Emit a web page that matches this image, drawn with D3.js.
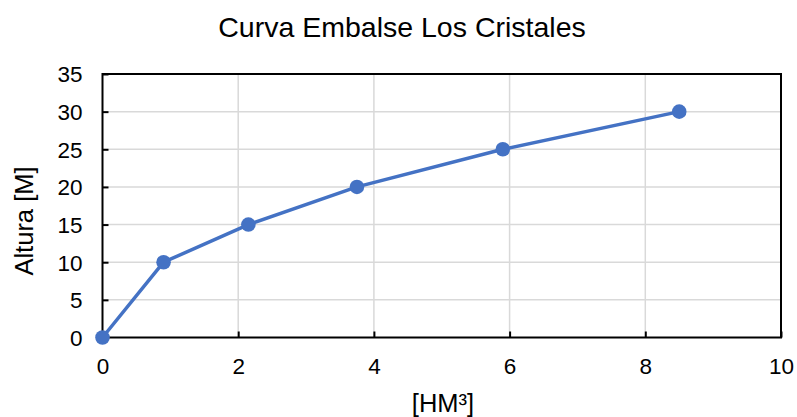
<!DOCTYPE html>
<html>
<head>
<meta charset="utf-8">
<script src="https://cdn.jsdelivr.net/npm/d3@7"></script>
<style>
  html, body { margin: 0; padding: 0; background: #fff; }
  svg { display: block; font-family: "Liberation Sans", Arial, sans-serif; }
</style>
</head>
<body>
<svg id="chart" width="797" height="417"></svg>
<script>
// Volume (HM³) and height (M) of the reservoir curve
const volumen = [0, 0.9, 2.15, 3.75, 5.9, 8.5];
const altura = [0, 10, 15, 20, 25, 30];
const xTicks = [0, 2, 4, 6, 8, 10];
const yTicks = [0, 5, 10, 15, 20, 25, 30, 35];
const titulo = "Curva Embalse Los Cristales";
const tituloX = "[HM³]";
const tituloY = "Altura [M]";

const svg = d3.select("#chart");
const m = { left: 102.5, right: 781, top: 74, bottom: 337.5 };

const x = d3.scaleLinear().domain([0, 10]).range([m.left, m.right]);
const y = d3.scaleLinear().domain([0, 35]).range([m.bottom, m.top]);

// Grid
const grid = svg.append("g");
grid.selectAll("line.gx").data(xTicks.slice(1, -1)).join("line")
  .attr("x1", d => x(d)).attr("x2", d => x(d))
  .attr("y1", m.top).attr("y2", m.bottom)
  .attr("stroke", "#d9d9d9").attr("stroke-width", 1.5);
grid.selectAll("line.gy").data(yTicks.slice(1, -1)).join("line")
  .attr("x1", m.left).attr("x2", m.right)
  .attr("y1", d => y(d)).attr("y2", d => y(d))
  .attr("stroke", "#d9d9d9").attr("stroke-width", 1.5);

// Axes with inward ticks
const xAxis = svg.append("g").attr("transform", `translate(0,${m.bottom})`)
  .call(d3.axisBottom(x).tickValues(xTicks).tickSize(-6).tickPadding(20).tickFormat(d3.format("d")));
const yAxis = svg.append("g").attr("transform", `translate(${m.left},0)`)
  .call(d3.axisLeft(y).tickValues(yTicks).tickSize(-6).tickPadding(20).tickFormat(d3.format("d")));
[xAxis, yAxis].forEach(a => {
  a.selectAll(".domain").remove();
  a.selectAll(".tick line").attr("stroke", "#000").attr("stroke-width", 2);
  a.selectAll(".tick text").attr("font-size", 22.5).attr("fill", "#000")
    .attr("font-family", "'Liberation Sans', Arial, sans-serif");
});
xAxis.selectAll(".tick text").attr("y", 0).attr("dy", 0)
  .attr("transform", "translate(0,36.5)");
yAxis.selectAll(".tick text").attr("dy", "0.35em");

// Plot frame
svg.append("rect")
  .attr("x", m.left).attr("y", m.top)
  .attr("width", m.right - m.left).attr("height", m.bottom - m.top)
  .attr("fill", "none").attr("stroke", "#000").attr("stroke-width", 2);

// Series
const pts = volumen.map((v, i) => [v, altura[i]]);
svg.append("path").datum(pts)
  .attr("fill", "none").attr("stroke", "#4472C4").attr("stroke-width", 3.5)
  .attr("stroke-linejoin", "round")
  .attr("d", d3.line().x(d => x(d[0])).y(d => y(d[1])));
svg.selectAll("circle.pt").data(pts).join("circle")
  .attr("cx", d => x(d[0])).attr("cy", d => y(d[1])).attr("r", 7.3)
  .attr("fill", "#4472C4");

// Titles
svg.append("text").attr("x", 402).attr("y", 36.5).attr("text-anchor", "middle")
  .attr("font-size", 28.5).attr("fill", "#000").text(titulo);
svg.append("text").attr("x", 443).attr("y", 411.5).attr("text-anchor", "middle")
  .attr("font-size", 25.5).attr("fill", "#000").text(tituloX);
svg.append("text").attr("transform", "translate(33,221) rotate(-90)").attr("text-anchor", "middle")
  .attr("font-size", 25.5).attr("fill", "#000").text(tituloY);
</script>
</body>
</html>
